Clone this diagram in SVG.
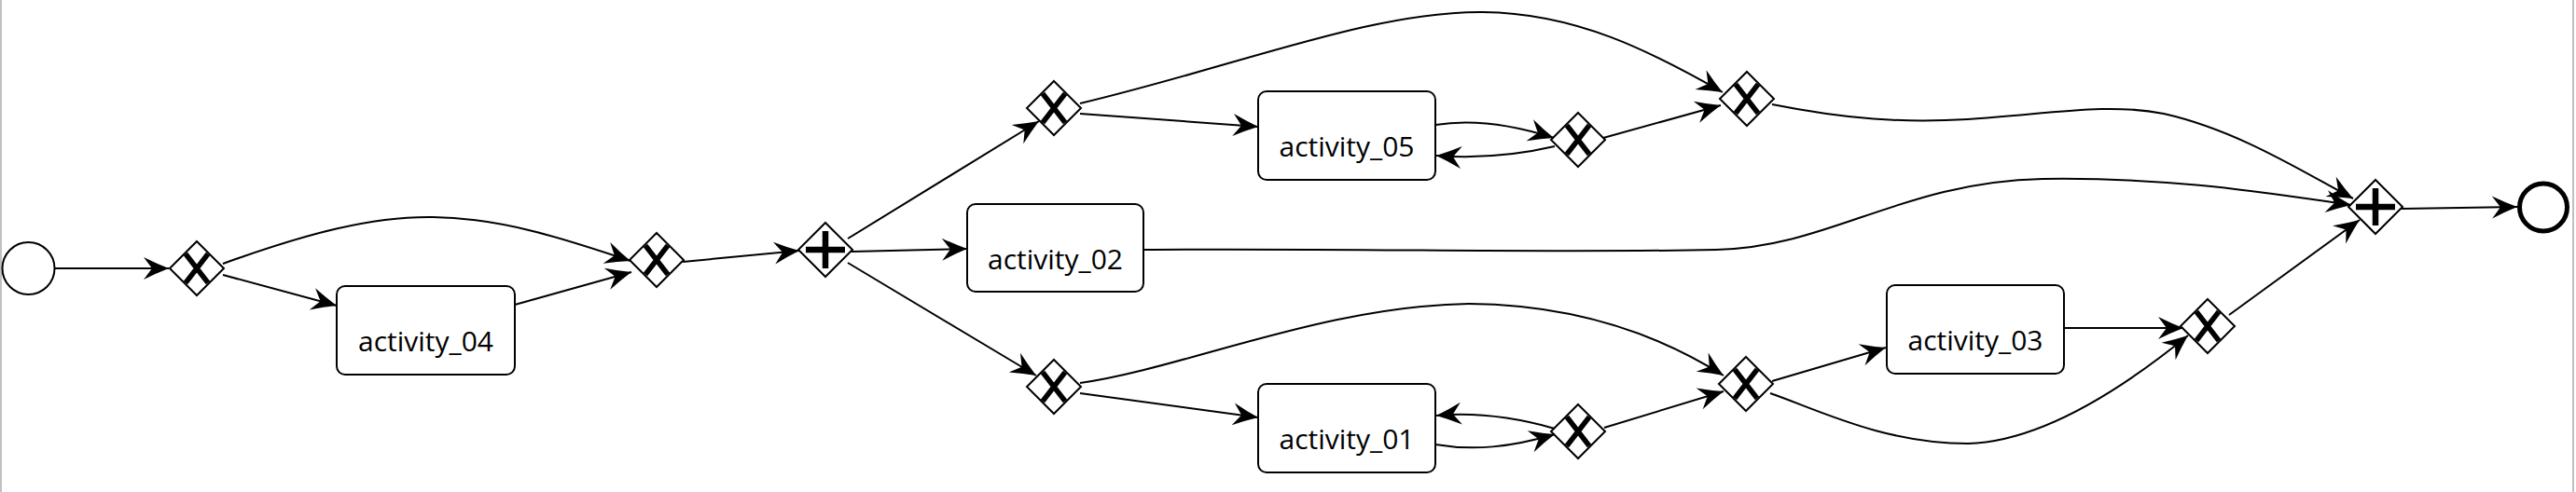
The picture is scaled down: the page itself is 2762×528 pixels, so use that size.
<svg xmlns="http://www.w3.org/2000/svg" width="2762" height="528" viewBox="0 0 2762 528">
<defs>
<marker id="arr" markerUnits="userSpaceOnUse" orient="auto" refX="0" refY="0" markerWidth="40" markerHeight="30" viewBox="-30 -15 40 30" overflow="visible">
<path d="M0,0 Q-13,-5 -27,-12 L-18,0 L-27,12 Q-13,5 0,0 Z" fill="#000"/>
</marker>
</defs>
<style>
.gw{fill:#fff;stroke:#000;stroke-width:2}
.xm{fill:none;stroke:#000;stroke-width:5.5}
.pm{fill:none;stroke:#000;stroke-width:6.5}
.box{fill:#fff;stroke:#000;stroke-width:2}
.lbl{font-family:"Open Sans","DejaVu Sans",sans-serif;font-size:30px;text-anchor:middle;fill:#000}
.edge{fill:none;stroke:#000;stroke-width:2;marker-end:url(#arr)}
.border{stroke:#c0c0c0;stroke-width:2}
</style>
<rect x="0" y="0" width="2762" height="528" fill="#fff"/>
<line class="border" x1="1" y1="0" x2="1" y2="528"/>
<line class="border" x1="2759" y1="0" x2="2759" y2="528"/>

<g id="start"><circle cx="30.5" cy="288" r="28" fill="#fff" stroke="#000" stroke-width="2"/></g>
<g id="end"><circle cx="2727" cy="222.5" r="25.5" fill="#fff" stroke="#000" stroke-width="5"/></g>

<g id="gw1"><polygon class="gw" points="211,259 240,288 211,317 182,288"/><path class="xm" d="M199,272.5 L223,303.5 M223,272.5 L199,303.5"/></g>
<g id="gw2"><polygon class="gw" points="704,250 733,279 704,308 675,279"/><path class="xm" d="M692,263.5 L716,294.5 M716,263.5 L692,294.5"/></g>
<g id="gw3"><polygon class="gw" points="885,239 914,268 885,297 856,268"/><path class="pm" d="M864,268 H906 M885,248 V288"/></g>
<g id="gw4"><polygon class="gw" points="1130,87 1159,116 1130,145 1101,116"/><path class="xm" d="M1118,100.5 L1142,131.5 M1142,100.5 L1118,131.5"/></g>
<g id="gw5"><polygon class="gw" points="1130,386 1159,415 1130,444 1101,415"/><path class="xm" d="M1118,399.5 L1142,430.5 M1142,399.5 L1118,430.5"/></g>
<g id="gw6"><polygon class="gw" points="1692,121 1721,150 1692,179 1663,150"/><path class="xm" d="M1680,134.5 L1704,165.5 M1704,134.5 L1680,165.5"/></g>
<g id="gw7"><polygon class="gw" points="1692,434 1721,463 1692,492 1663,463"/><path class="xm" d="M1680,447.5 L1704,478.5 M1704,447.5 L1680,478.5"/></g>
<g id="gw8"><polygon class="gw" points="1873,77 1902,106 1873,135 1844,106"/><path class="xm" d="M1861,90.5 L1885,121.5 M1885,90.5 L1861,121.5"/></g>
<g id="gw9"><polygon class="gw" points="1872,383 1901,412 1872,441 1843,412"/><path class="xm" d="M1860,396.5 L1884,427.5 M1884,396.5 L1860,427.5"/></g>
<g id="gw10"><polygon class="gw" points="2367,321 2396,350 2367,379 2338,350"/><path class="xm" d="M2355,334.5 L2379,365.5 M2379,334.5 L2355,365.5"/></g>
<g id="gw11"><polygon class="gw" points="2547,193 2576,222 2547,251 2518,222"/><path class="pm" d="M2526,222 H2568 M2547,202 V242"/></g>

<g id="activity_04"><rect class="box" x="361" y="307" width="191" height="95" rx="9"/><text class="lbl" x="456.5" y="377">activity_04</text></g>
<g id="activity_05"><rect class="box" x="1349" y="98" width="190" height="95" rx="9"/><text class="lbl" x="1444" y="168">activity_05</text></g>
<g id="activity_02"><rect class="box" x="1037" y="219" width="189" height="94" rx="9"/><text class="lbl" x="1131.5" y="289">activity_02</text></g>
<g id="activity_01"><rect class="box" x="1349" y="412" width="190" height="95" rx="9"/><text class="lbl" x="1444" y="482">activity_01</text></g>
<g id="activity_03"><rect class="box" x="2023" y="306" width="190" height="95" rx="9"/><text class="lbl" x="2118" y="376">activity_03</text></g>

<g id="connectors">
<path class="edge" d="M58.5,288 L181,288"/>
<path class="edge" d="M239,295 L361,328"/>
<path class="edge" d="M239,283 C330,250 400,232 464,233 C540,234 610,258 676,280"/>
<path class="edge" d="M552,327 L677,292"/>
<path class="edge" d="M732,281 L857,269"/>
<path class="edge" d="M909,256 L1114,130"/>
<path class="edge" d="M913,270 L1037,267"/>
<path class="edge" d="M909,282 L1111,403"/>
<path class="edge" d="M1158,122 L1349,136"/>
<path class="edge" d="M1158,111 C1330,70 1470,12 1590,13 C1690,14 1770,55 1847,99"/>
<path class="edge" d="M1539,134 C1570,129 1610,130 1666,148"/>
<path class="edge" d="M1667,157 C1620,168 1580,170 1540,167"/>
<path class="edge" d="M1719,148 L1845,113"/>
<path class="edge" d="M1158,422 L1349,448"/>
<path class="edge" d="M1158,411 C1270,395 1420,328 1575,326 C1690,327 1780,360 1848,403"/>
<path class="edge" d="M1667,460 C1625,448 1585,442 1540,446"/>
<path class="edge" d="M1539,477 C1580,484 1620,480 1667,466"/>
<path class="edge" d="M1720,459 L1848,420"/>
<path class="edge" d="M1900,112 C1980,128 2040,132 2110,128 C2200,122 2260,110 2320,122 C2400,140 2470,185 2523,213"/>
<path class="edge" d="M1900,409 L2022,373"/>
<path class="edge" d="M1898,422 C1950,440 2020,476 2110,476 C2180,474 2260,430 2346,360"/>
<path class="edge" d="M2213,352 L2341,352"/>
<path class="edge" d="M2390,338 L2530,236"/>
<path class="edge" d="M1226,268 C1450,266 1650,272 1840,268 C1960,266 2040,195 2190,192 C2330,190 2430,207 2521,220"/>
<path class="edge" d="M2575,224 L2699,222"/>
</g>
</svg>
